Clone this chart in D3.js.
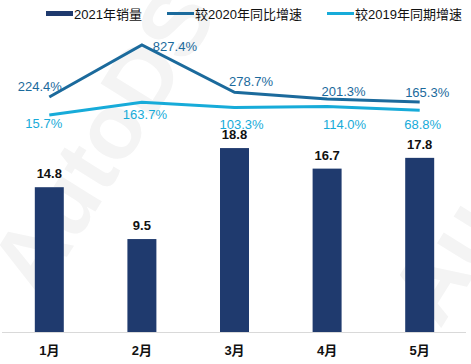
<html>
<head>
<meta charset="utf-8">
<style>
  body { margin: 0; background: #fff; }
  text { font-family: "Liberation Sans", Arial, "Noto Sans CJK SC", sans-serif; }
</style>
</head>
<body>
<div id="chart"></div>
<script src="https://cdn.jsdelivr.net/npm/d3@7/dist/d3.min.js"></script>
<script>
var months = ["1月", "2月", "3月", "4月", "5月"];
var sales2021 = [14.8, 9.5, 18.8, 16.7, 17.8];
var growthVs2020 = [224.4, 827.4, 278.7, 201.3, 165.3];
var growthVs2019 = [15.7, 163.7, 103.3, 114.0, 68.8];
var seriesNames = ["2021年销量", "较2020年同比增速", "较2019年同期增速"];

// label nudges (px) so the percent labels sit where the original put them
var off2020 = [[-9.5, -10], [33, 2], [16.5, -11], [16.5, -7], [7.5, -10]];
var off2019 = [[-5.5, 9], [3, 12], [7, 17], [17.5, 18], [3, 14]];

var W = 471, H = 364;
var barColor = "#1f3a6e", c2020 = "#1b6a9c", c2019 = "#17abd9";

var svg = d3.select("#chart").append("svg").attr("width", W).attr("height", H);

// faint watermark
svg.append("text")
  .attr("transform", "translate(40,300) rotate(-58)")
  .attr("font-size", 92).attr("font-weight", "bold")
  .attr("fill", "#f4f4f4")
  .text("AutoDS");
svg.append("text")
  .attr("transform", "translate(440,330) rotate(-58)")
  .attr("font-size", 92).attr("font-weight", "bold")
  .attr("fill", "#f4f4f4")
  .text("Au");

var x = d3.scaleBand().domain(months).range([3, 466]).paddingInner(0.687).paddingOuter(0.3435);
var y = d3.scaleLinear().domain([0, 30]).range([332, 38.5]);
var y2 = d3.scaleLinear().domain([0, 1000]).range([116.3, 30.1]);
var cx = function(i) { return x(months[i]) + x.bandwidth() / 2; };

// bars
svg.selectAll("rect.bar").data(sales2021).enter().append("rect")
  .attr("class", "bar")
  .attr("x", function(d, i) { return x(months[i]); })
  .attr("width", x.bandwidth())
  .attr("y", function(d) { return y(d); })
  .attr("height", function(d) { return y(0) - y(d); })
  .attr("fill", barColor);

svg.selectAll("text.barlab").data(sales2021).enter().append("text")
  .attr("class", "barlab")
  .attr("x", function(d, i) { return cx(i); })
  .attr("y", function(d) { return y(d) - 9; })
  .attr("text-anchor", "middle")
  .attr("font-size", 13).attr("font-weight", "bold").attr("fill", "#111")
  .text(function(d) { return d.toFixed(1); });

// category axis
var xAxis = svg.append("g").attr("transform", "translate(0," + y(0) + ")")
  .call(d3.axisBottom(x).tickSize(0).tickPadding(14));
xAxis.select(".domain").attr("stroke", "#d9d9d9").attr("d", "M2,0.5H466");
xAxis.selectAll("text")
  .attr("font-size", 13).attr("font-weight", "bold").attr("fill", "#111")
  .attr("font-family", "\"Liberation Sans\", \"Noto Sans CJK SC\", sans-serif");

// lines
var line = function(vals) {
  return d3.line().x(function(d, i) { return cx(i); }).y(function(d) { return y2(d); })(vals);
};
svg.append("path").attr("d", line(growthVs2019)).attr("fill", "none")
  .attr("stroke", c2019).attr("stroke-width", 3);
svg.append("path").attr("d", line(growthVs2020)).attr("fill", "none")
  .attr("stroke", c2020).attr("stroke-width", 3);

function pctLabels(vals, offs, color) {
  svg.append("g").selectAll("text").data(vals).enter().append("text")
    .attr("x", function(d, i) { return cx(i) + offs[i][0]; })
    .attr("y", function(d, i) { return y2(d) + offs[i][1] + 4.5; })
    .attr("text-anchor", "middle")
    .attr("font-size", 13).attr("fill", color)
    .text(function(d) { return d.toFixed(1) + "%"; });
}
pctLabels(growthVs2020, off2020, c2020);
pctLabels(growthVs2019, off2019, c2019);

// legend
var legend = [
  { x: 46, type: "rect", color: barColor },
  { x: 167, type: "line", color: c2020 },
  { x: 327, type: "line", color: c2019 }
];
var lg = svg.append("g").selectAll("g").data(legend).enter().append("g")
  .attr("transform", function(d) { return "translate(" + d.x + ",0)"; });
lg.each(function(d, i) {
  var g = d3.select(this);
  if (d.type === "rect") {
    g.append("rect").attr("x", 0).attr("y", 11).attr("width", 27).attr("height", 5).attr("fill", d.color);
  } else {
    g.append("line").attr("x1", 0).attr("x2", 27).attr("y1", 13.5).attr("y2", 13.5)
      .attr("stroke", d.color).attr("stroke-width", 3);
  }
  g.append("text").attr("x", 28).attr("y", 18.5)
    .attr("font-size", 13).attr("fill", "#111")
    .attr("font-family", "\"Liberation Sans\", \"Noto Sans CJK SC\", sans-serif")
    .text(seriesNames[i]);
});
</script>
</body>
</html>
